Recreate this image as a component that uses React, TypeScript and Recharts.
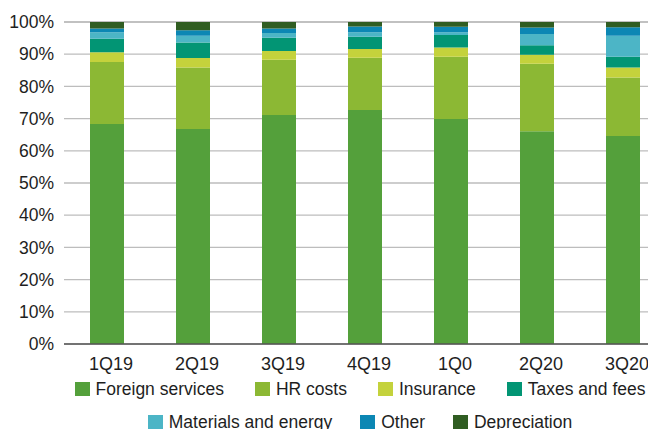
import React from "react";
import { BarChart, Bar, XAxis, YAxis, CartesianGrid, Legend } from "recharts";

const quarters = ["1Q19", "2Q19", "3Q19", "4Q19", "1Q0", "2Q20", "3Q20"];

// shares of total costs, %
const foreignServices = [68.3, 66.8, 71.1, 72.7, 69.9, 66.1, 64.6];
const hrCosts = [19.3, 19.1, 17.2, 16.2, 19.3, 20.9, 18.2];
const insurance = [3.0, 2.9, 2.7, 2.7, 2.9, 2.8, 3.1];
const taxesAndFees = [4.2, 4.8, 4.1, 3.8, 3.9, 3.0, 3.3];
const materialsAndEnergy = [2.0, 2.1, 1.5, 1.4, 0.8, 3.5, 6.5];
const other = [1.2, 1.7, 1.4, 1.8, 1.7, 2.0, 2.7];
const depreciation = [2.0, 2.6, 2.0, 1.4, 1.5, 1.7, 1.6];

const yTicks = [0, 10, 20, 30, 40, 50, 60, 70, 80, 90, 100];

const series = [
  { key: "fs", label: "Foreign services", color: "#54a03b", values: foreignServices },
  { key: "hr", label: "HR costs", color: "#8cb834", values: hrCosts },
  { key: "ins", label: "Insurance", color: "#c4d23c", values: insurance },
  { key: "tax", label: "Taxes and fees", color: "#029574", values: taxesAndFees },
  { key: "mat", label: "Materials and energy", color: "#4cb5c6", values: materialsAndEnergy },
  { key: "oth", label: "Other", color: "#0c87b4", values: other },
  { key: "dep", label: "Depreciation", color: "#305d22", values: depreciation },
];

const data = quarters.map((q, i) => {
  const row: Record<string, string | number> = { quarter: q };
  series.forEach((s) => {
    row[s.key] = s.values[i];
  });
  return row;
});

const FONT = "'Liberation Sans', Arial, sans-serif";
const TEXT = "#1e1e1e";

function LegendItem({ label, color }: { label: string; color: string }) {
  return (
    <div style={{ display: "flex", alignItems: "center" }}>
      <span style={{ width: 15, height: 14, background: color, marginRight: 6, display: "inline-block" }} />
      <span>{label}</span>
    </div>
  );
}

function renderLegend() {
  const rows = [series.slice(0, 4), series.slice(4)];
  return (
    <div style={{ fontFamily: FONT, fontSize: 17.5, color: TEXT, lineHeight: "22px" }}>
      {rows.map((row, r) => (
        <div
          key={r}
          style={{ display: "flex", justifyContent: "center", gap: r === 0 ? 31 : 28, marginTop: r === 0 ? 1 : 11 }}
        >
          {row.map((s) => (
            <LegendItem key={s.key} label={s.label} color={s.color} />
          ))}
        </div>
      ))}
    </div>
  );
}

export default function App() {
  return (
    <div style={{ margin: -8, width: 656, height: 437, overflow: "hidden", background: "#fff" }}>
      <BarChart
        width={680}
        height={437}
        data={data}
        margin={{ top: 22, right: 14, bottom: 0, left: 0 }}
        barSize={34}
      >
        <CartesianGrid vertical={false} stroke="#bdbdbd" strokeWidth={1.3} />
        <XAxis
          dataKey="quarter"
          height={33}
          tickLine={false}
          axisLine={{ stroke: "#555555", strokeWidth: 1.5 }}
          tick={{ fontSize: 18, fill: TEXT, fontFamily: FONT, dx: 4 }}
          tickMargin={7}
        />
        <YAxis
          width={64}
          domain={[0, 100]}
          ticks={yTicks}
          tickFormatter={(v) => `${v}%`}
          axisLine={false}
          tickLine={false}
          tickSize={0}
          tickMargin={10}
          tick={{ fontSize: 17.5, fill: TEXT, fontFamily: FONT }}
        />
        <Legend
          verticalAlign="bottom"
          height={60}
          content={renderLegend}
          wrapperStyle={{ left: 50, width: 620 }}
        />
        {series.map((s) => (
          <Bar
            key={s.key}
            dataKey={s.key}
            name={s.label}
            stackId="a"
            fill={s.color}
            isAnimationActive={false}
          />
        ))}
      </BarChart>
    </div>
  );
}
